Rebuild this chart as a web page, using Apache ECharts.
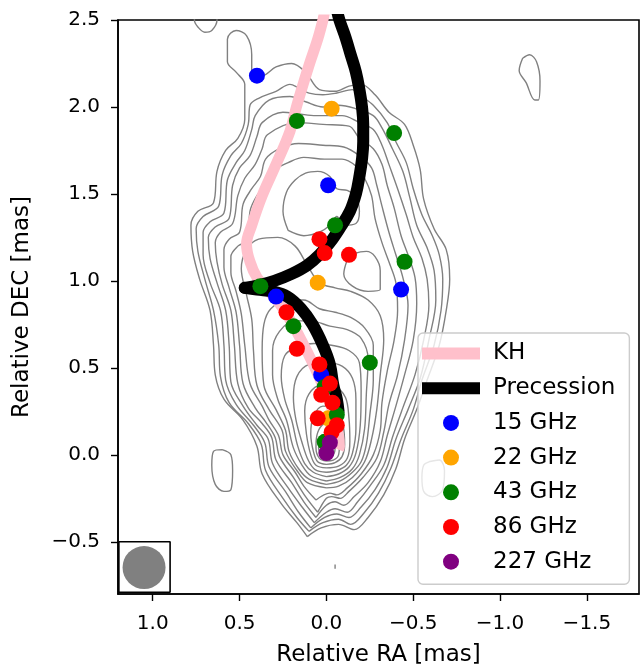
<!DOCTYPE html>
<html>
<head>
<meta charset="utf-8">
<script src="https://cdn.jsdelivr.net/npm/echarts@6/dist/echarts.min.js"></script>
<style>
html, body { margin: 0; padding: 0; background: #fff; }
#chart { width: 640px; height: 664px; }
</style>
</head>
<body>
<div id="chart"></div>
<script>
// tick values (mas)
const xTicks = [1.0, 0.5, 0.0, -0.5, -1.0, -1.5];
const yTicks = [-0.5, 0.0, 0.5, 1.0, 1.5, 2.0, 2.5];

// component positions [RA, DEC] in mas
const f15 = [[0.40, 2.18], [-0.01, 1.55], [-0.43, 0.95], [0.29, 0.91], [0.03, 0.46]];
const f22 = [[-0.03, 1.99], [0.05, 0.99], [-0.01, 0.21]];
const f43 = [[0.17, 1.92], [-0.39, 1.85], [-0.05, 1.32], [-0.45, 1.11], [0.38, 0.97],
             [0.19, 0.74], [-0.25, 0.53], [0.01, 0.39], [-0.06, 0.23], [0.01, 0.075]];
const f86 = [[0.04, 1.24], [0.01, 1.16], [-0.13, 1.15], [0.23, 0.82], [0.17, 0.61], [0.04, 0.52],
             [-0.02, 0.41], [0.03, 0.345], [-0.035, 0.30], [0.05, 0.21], [-0.06, 0.17], [-0.03, 0.13]];
const f227 = [[-0.02, 0.07], [0.00, 0.01]];

// model jet paths
const khPath = [[0.01, 2.55], [0.02, 2.50], [0.05, 2.39], [0.10, 2.24], [0.17, 2.01], [0.21, 1.86],
                [0.29, 1.67], [0.37, 1.49], [0.43, 1.32], [0.46, 1.21], [0.44, 1.11], [0.40, 1.02],
                [0.34, 0.95], [0.27, 0.87], [0.20, 0.76], [0.14, 0.65], [0.08, 0.53], [0.03, 0.42],
                [-0.02, 0.30], [-0.05, 0.20], [-0.07, 0.11], [-0.075, 0.05], [-0.07, 0.03]];
const precUpper = [[-0.06, 2.56], [-0.075, 2.50], [-0.11, 2.40], [-0.14, 2.30], [-0.17, 2.20],
                   [-0.19, 2.10], [-0.205, 2.00], [-0.212, 1.90], [-0.212, 1.80], [-0.205, 1.70],
                   [-0.19, 1.60], [-0.17, 1.50], [-0.135, 1.40], [-0.075, 1.30], [-0.02, 1.22],
                   [0.04, 1.15], [0.11, 1.09], [0.20, 1.04], [0.30, 1.00], [0.39, 0.975], [0.47, 0.96]];
const precLower = [[0.47, 0.96], [0.40, 0.95], [0.31, 0.94], [0.225, 0.91], [0.145, 0.84],
                   [0.08, 0.75], [0.02, 0.63], [-0.02, 0.52], [-0.04, 0.40], [-0.06, 0.32], [-0.07, 0.25]];

// contour lines of the image (closed), outer to inner
const cE1 = [[0.11,-0.47],[0.17,-0.39],[0.26,-0.28],[0.37,-0.11],[0.40,0.05],[0.48,0.20],[0.59,0.32],[0.64,0.46],[0.65,0.63],[0.67,0.83],[0.73,1.01],[0.77,1.17],[0.78,1.32],[0.74,1.40],[0.65,1.45],[0.63,1.63],[0.58,1.75],[0.51,1.82],[0.47,1.93],[0.47,2.13],[0.52,2.20],[0.57,2.26],[0.57,2.39],[0.52,2.44],[0.46,2.41],[0.43,2.30],[0.43,2.20],[0.37,2.18],[0.29,2.23],[0.20,2.25],[0.12,2.20],[0.04,2.10],[-0.05,2.09],[-0.13,2.12],[-0.20,2.13],[-0.28,2.07],[-0.36,1.97],[-0.45,1.90],[-0.50,1.78],[-0.54,1.64],[-0.56,1.47],[-0.62,1.30],[-0.69,1.18],[-0.71,1.01],[-0.69,0.83],[-0.65,0.63],[-0.58,0.43],[-0.52,0.26],[-0.45,0.09],[-0.40,-0.08],[-0.33,-0.23],[-0.24,-0.36],[-0.16,-0.43],[-0.07,-0.40],[0.03,-0.42]];
const cE2 = [[0.10,-0.44],[0.17,-0.36],[0.25,-0.25],[0.35,-0.09],[0.375,0.06],[0.45,0.18],[0.56,0.30],[0.61,0.45],[0.62,0.63],[0.65,0.83],[0.70,1.01],[0.74,1.17],[0.75,1.30],[0.71,1.37],[0.62,1.43],[0.60,1.61],[0.55,1.72],[0.49,1.79],[0.45,1.90],[0.44,2.01],[0.39,2.05],[0.29,2.09],[0.21,2.13],[0.16,2.11],[0.10,2.08],[0.02,2.07],[-0.06,2.08],[-0.15,2.10],[-0.19,2.07],[-0.27,2.01],[-0.35,1.91],[-0.40,1.80],[-0.46,1.68],[-0.50,1.53],[-0.55,1.38],[-0.61,1.26],[-0.65,1.15],[-0.67,1.01],[-0.66,0.83],[-0.62,0.63],[-0.55,0.43],[-0.50,0.26],[-0.43,0.09],[-0.37,-0.08],[-0.30,-0.22],[-0.22,-0.33],[-0.14,-0.40],[-0.07,-0.37],[0.02,-0.39]];
const cE3 = [[0.09,-0.42],[0.16,-0.33],[0.23,-0.22],[0.33,-0.07],[0.355,0.07],[0.42,0.17],[0.52,0.29],[0.58,0.43],[0.59,0.63],[0.61,0.83],[0.67,0.99],[0.71,1.15],[0.71,1.28],[0.67,1.34],[0.59,1.39],[0.57,1.58],[0.52,1.68],[0.47,1.75],[0.43,1.87],[0.41,1.95],[0.33,2.04],[0.21,2.06],[0.12,2.03],[0.02,2.00],[-0.07,2.01],[-0.17,1.99],[-0.27,1.95],[-0.32,1.88],[-0.38,1.76],[-0.44,1.63],[-0.48,1.48],[-0.52,1.32],[-0.58,1.19],[-0.62,1.06],[-0.63,0.89],[-0.59,0.66],[-0.54,0.44],[-0.47,0.26],[-0.40,0.09],[-0.35,-0.07],[-0.28,-0.20],[-0.20,-0.30],[-0.13,-0.36],[-0.06,-0.34],[0.01,-0.36]];
const cE4 = [[0.07,-0.39],[0.14,-0.30],[0.22,-0.19],[0.31,-0.05],[0.335,0.09],[0.40,0.17],[0.48,0.28],[0.55,0.42],[0.56,0.63],[0.58,0.83],[0.63,0.99],[0.67,1.13],[0.68,1.25],[0.64,1.31],[0.56,1.36],[0.54,1.55],[0.50,1.65],[0.44,1.72],[0.40,1.83],[0.37,1.91],[0.25,1.97],[0.16,1.96],[0.06,1.95],[-0.09,1.95],[-0.19,1.91],[-0.27,1.87],[-0.32,1.78],[-0.36,1.67],[-0.41,1.53],[-0.46,1.38],[-0.50,1.25],[-0.55,1.13],[-0.58,1.01],[-0.59,0.86],[-0.56,0.66],[-0.51,0.46],[-0.44,0.27],[-0.38,0.10],[-0.33,-0.06],[-0.25,-0.18],[-0.18,-0.27],[-0.12,-0.33],[-0.05,-0.31],[0.00,-0.33]];
const cE5 = [[0.06,-0.36],[0.13,-0.27],[0.20,-0.16],[0.29,-0.03],[0.315,0.10],[0.37,0.18],[0.45,0.27],[0.51,0.41],[0.53,0.63],[0.55,0.83],[0.60,0.98],[0.63,1.11],[0.64,1.22],[0.61,1.28],[0.54,1.33],[0.51,1.49],[0.47,1.59],[0.41,1.67],[0.37,1.76],[0.34,1.84],[0.17,1.91],[0.02,1.90],[-0.13,1.89],[-0.19,1.82],[-0.27,1.76],[-0.32,1.67],[-0.35,1.55],[-0.39,1.42],[-0.43,1.26],[-0.47,1.15],[-0.51,1.02],[-0.52,0.87],[-0.50,0.66],[-0.45,0.46],[-0.40,0.28],[-0.35,0.11],[-0.31,-0.04],[-0.24,-0.16],[-0.16,-0.24],[-0.10,-0.29],[-0.05,-0.27],[0.00,-0.29]];
const cE6 = [[0.05,-0.33],[0.12,-0.24],[0.19,-0.13],[0.27,-0.01],[0.295,0.10],[0.35,0.19],[0.41,0.27],[0.48,0.41],[0.50,0.63],[0.52,0.82],[0.56,0.96],[0.59,1.08],[0.59,1.18],[0.56,1.24],[0.50,1.28],[0.48,1.44],[0.43,1.53],[0.38,1.60],[0.35,1.70],[0.27,1.76],[0.16,1.79],[0.02,1.78],[-0.10,1.77],[-0.19,1.72],[-0.26,1.65],[-0.29,1.55],[-0.32,1.43],[-0.36,1.28],[-0.40,1.15],[-0.44,1.02],[-0.47,0.86],[-0.45,0.66],[-0.41,0.46],[-0.36,0.29],[-0.33,0.13],[-0.29,-0.02],[-0.21,-0.13],[-0.13,-0.21],[-0.08,-0.25],[-0.03,-0.24],[0.00,-0.25]];
const cE7 = [[0.06,-0.26],[0.13,-0.18],[0.18,-0.10],[0.25,0.00],[0.275,0.11],[0.33,0.20],[0.37,0.28],[0.44,0.41],[0.47,0.63],[0.49,0.81],[0.52,0.94],[0.55,1.05],[0.55,1.14],[0.51,1.20],[0.45,1.24],[0.44,1.40],[0.40,1.49],[0.35,1.55],[0.31,1.63],[0.22,1.68],[0.13,1.71],[0.01,1.70],[-0.09,1.70],[-0.17,1.66],[-0.22,1.59],[-0.26,1.49],[-0.28,1.36],[-0.32,1.22],[-0.36,1.11],[-0.40,0.99],[-0.41,0.83],[-0.39,0.66],[-0.35,0.48],[-0.32,0.30],[-0.31,0.14],[-0.27,0.00],[-0.20,-0.11],[-0.12,-0.19],[-0.06,-0.23],[-0.02,-0.22]];
const cM1 = [[0.00,-0.19],[0.11,-0.16],[0.17,-0.09],[0.235,0.02],[0.255,0.14],[0.33,0.26],[0.40,0.40],[0.42,0.60],[0.43,0.78],[0.46,0.92],[0.49,1.07],[0.46,1.18],[0.39,1.24],[0.28,1.25],[0.18,1.20],[0.11,1.09],[0.04,0.99],[-0.05,0.96],[-0.14,0.94],[-0.24,0.89],[-0.31,0.80],[-0.33,0.66],[-0.31,0.46],[-0.29,0.26],[-0.26,0.09],[-0.22,-0.04],[-0.15,-0.13],[-0.07,-0.18]];
const cM2 = [[0.00,-0.17],[0.10,-0.14],[0.16,-0.08],[0.215,0.02],[0.235,0.14],[0.29,0.26],[0.36,0.40],[0.37,0.60],[0.36,0.75],[0.32,0.84],[0.22,0.89],[0.13,0.89],[0.04,0.84],[-0.05,0.82],[-0.14,0.79],[-0.22,0.73],[-0.27,0.63],[-0.27,0.43],[-0.25,0.23],[-0.23,0.06],[-0.20,-0.04],[-0.15,-0.10],[-0.08,-0.15]];
const cC7 = [[0.00,-0.15],[0.09,-0.12],[0.14,-0.06],[0.19,0.04],[0.23,0.20],[0.28,0.32],[0.31,0.46],[0.31,0.60],[0.27,0.71],[0.18,0.77],[0.09,0.77],[-0.02,0.74],[-0.12,0.72],[-0.20,0.67],[-0.24,0.55],[-0.23,0.35],[-0.22,0.15],[-0.19,0.00],[-0.15,-0.08],[-0.08,-0.13]];
const cC6 = [[0.00,-0.125],[0.075,-0.10],[0.125,-0.05],[0.165,0.05],[0.20,0.20],[0.24,0.32],[0.26,0.45],[0.24,0.57],[0.17,0.62],[0.07,0.64],[-0.03,0.63],[-0.13,0.60],[-0.19,0.53],[-0.20,0.37],[-0.195,0.17],[-0.17,0.01],[-0.13,-0.07],[-0.07,-0.11]];
const cC5 = [[0.00,-0.10],[0.065,-0.085],[0.105,-0.03],[0.14,0.07],[0.175,0.20],[0.19,0.33],[0.17,0.45],[0.10,0.52],[0.00,0.53],[-0.09,0.51],[-0.15,0.44],[-0.17,0.32],[-0.17,0.15],[-0.15,0.01],[-0.115,-0.06],[-0.06,-0.09]];
const cC4 = [[0.00,-0.075],[0.06,-0.06],[0.09,0.00],[0.115,0.12],[0.125,0.25],[0.10,0.35],[0.03,0.40],[-0.05,0.39],[-0.11,0.33],[-0.13,0.21],[-0.135,0.08],[-0.12,-0.02],[-0.07,-0.065]];
const cC3 = [[0.00,-0.055],[0.05,-0.04],[0.075,0.02],[0.09,0.12],[0.075,0.22],[0.02,0.28],[-0.05,0.26],[-0.095,0.17],[-0.105,0.06],[-0.09,-0.01],[-0.05,-0.045]];
const cC2 = [[0.00,-0.035],[0.04,-0.02],[0.06,0.04],[0.055,0.11],[0.025,0.17],[-0.02,0.18],[-0.06,0.13],[-0.075,0.06],[-0.07,0.00],[-0.04,-0.03]];
const cC1 = [[0.00,-0.015],[0.03,-0.005],[0.045,0.04],[0.04,0.085],[0.015,0.115],[-0.015,0.115],[-0.04,0.08],[-0.05,0.035],[-0.04,0.00],[-0.02,-0.012]];
const loopA = [[0.22,1.29],[0.25,1.40],[0.23,1.51],[0.18,1.58],[0.12,1.62],[0.05,1.63],[-0.02,1.60],[-0.06,1.53],[-0.12,1.52],[-0.17,1.48],[-0.19,1.40],[-0.17,1.33],[-0.10,1.32],[-0.06,1.37],[-0.02,1.32],[0.04,1.28],[0.13,1.26]];
const loopB = [[-0.12,1.12],[-0.10,1.04],[-0.15,0.97],[-0.24,0.94],[-0.31,0.95],[-0.31,1.06],[-0.28,1.14],[-0.23,1.17],[-0.17,1.16]];
const islandRight = [[-1.13,2.28],[-1.17,2.30],[-1.21,2.26],[-1.23,2.15],[-1.22,2.04],[-1.20,2.04],[-1.15,2.14],[-1.11,2.21]];
const islandWest = [[0.60,0.03],[0.55,0.00],[0.54,-0.09],[0.55,-0.20],[0.59,-0.21],[0.64,-0.17],[0.66,-0.06],[0.65,0.02]];
const islandEast = [[-0.59,-0.04],[-0.65,-0.03],[-0.68,-0.09],[-0.67,-0.20],[-0.61,-0.24],[-0.56,-0.21],[-0.55,-0.13],[-0.56,-0.06]];
// open pieces
const islandTop = [[0.76,2.56],[0.76,2.50],[0.74,2.46],[0.70,2.43],[0.66,2.44],[0.63,2.50],[0.63,2.56]];
const islandTick = [[-0.05,-0.63],[-0.05,-0.655]];

const closedContours = [cE1, cE2, cE3, cE4, cE5, cE6, cE7, cM1, cM2, cC7, cC6, cC5, cC4, cC3, cC2, cC1,
                        loopA, loopB, islandRight, islandWest, islandEast];
const openContours = [islandTop, islandTick];

// restoring beam
const beamCenter = [[1.05, -0.648]];
const beamBox = [[1.195, -0.50], [0.90, -0.50], [0.90, -0.79], [1.195, -0.79], [1.195, -0.50]];

const freqs = [
    { name: '15 GHz', color: '#0000ff', data: f15 },
    { name: '22 GHz', color: '#ffa500', data: f22 },
    { name: '43 GHz', color: '#008000', data: f43 },
    { name: '86 GHz', color: '#ff0000', data: f86 },
    { name: '227 GHz', color: '#800080', data: f227 }
];

const FONT = 'DejaVu Sans';
const fmt = v => (v < 0 ? '\u2212' : '') + Math.abs(v).toFixed(1);

const chart = echarts.init(document.getElementById('chart'));

const contourLine = (d) => ({
    type: 'line', data: d, symbol: 'none', smooth: 0.35, silent: true, z: 1,
    lineStyle: { color: '#808080', width: 1.4 }
});

const series = [];
closedContours.forEach(c => series.push(contourLine(c.concat([c[0]]))));
openContours.forEach(c => series.push(contourLine(c)));

series.push({
    name: 'KH', type: 'line', data: khPath, symbol: 'none', smooth: 0.4, silent: true, z: 2,
    lineStyle: { color: '#ffc0cb', width: 11, cap: 'butt' }, itemStyle: { color: '#ffc0cb' }
});
[precUpper, precLower].forEach(p => series.push({
    name: 'Precession', type: 'line', data: p, symbol: 'none', smooth: 0.4, silent: true, z: 2,
    lineStyle: { color: '#000000', width: 12, cap: 'round', join: 'round' }, itemStyle: { color: '#000000' }
}));
freqs.forEach(f => series.push({
    name: f.name, type: 'scatter', data: f.data, symbol: 'circle', symbolSize: 16, silent: true, z: 3,
    itemStyle: { color: f.color, opacity: 1 }
}));
// beam
series.push({
    type: 'scatter', data: beamCenter, symbolSize: 43, silent: true, z: 3,
    itemStyle: { color: '#808080', opacity: 1 }
});
series.push({
    type: 'line', data: beamBox, symbol: 'none', silent: true, z: 3,
    lineStyle: { color: '#000000', width: 1.6 }
});

const barIcon = 'path://M0,0L58,0L58,12L0,12Z';

const option = {
    animation: false,
    grid: { left: 118, right: 1, top: 20, bottom: 70, outerBoundsMode: 'none', containLabel: false,
            show: true, borderColor: '#000', borderWidth: 1.6, backgroundColor: 'transparent' },
    xAxis: {
        type: 'value', min: -1.8, max: 1.2, inverse: true,
        name: 'Relative RA [mas]', nameLocation: 'middle', nameGap: 50,
        nameTextStyle: { fontFamily: FONT, fontSize: 23, color: '#000' },
        axisLine: { show: true, onZero: false, lineStyle: { color: '#000', width: 1.6 } },
        axisTick: { show: true, length: 7, customValues: xTicks, lineStyle: { color: '#000', width: 1.4 } },
        axisLabel: { customValues: xTicks, formatter: fmt, fontFamily: FONT, fontSize: 20, color: '#000', margin: 20 },
        splitLine: { show: false }
    },
    yAxis: {
        type: 'value', min: -0.8, max: 2.5,
        name: 'Relative DEC [mas]', nameLocation: 'middle', nameGap: 84,
        nameTextStyle: { fontFamily: FONT, fontSize: 23, color: '#000' },
        axisLine: { show: true, onZero: false, lineStyle: { color: '#000', width: 1.6 } },
        axisTick: { show: true, length: 7, customValues: yTicks, lineStyle: { color: '#000', width: 1.4 } },
        axisLabel: { customValues: yTicks, formatter: fmt, fontFamily: FONT, fontSize: 20, color: '#000', margin: 18 },
        splitLine: { show: false }
    },
    legend: {
        orient: 'vertical', left: 418, top: 333,
        itemWidth: 58, itemHeight: 16, itemGap: 11.7,
        padding: [9, 14, 11, 4],
        backgroundColor: 'rgba(255,255,255,0.8)', borderColor: '#cccccc', borderWidth: 1.4, borderRadius: 5,
        selectedMode: false,
        textStyle: { fontFamily: FONT, fontSize: 23, color: '#000', padding: [0, 0, 0, 8] },
        data: [
            { name: 'KH', icon: barIcon, itemStyle: { color: '#ffc0cb', borderWidth: 0 } },
            { name: 'Precession', icon: barIcon, itemStyle: { color: '#000000', borderWidth: 0 } }
        ].concat(freqs.map(f => ({ name: f.name, icon: 'circle', itemStyle: { color: f.color, borderWidth: 0 } })))
    },
    series: series
};

chart.setOption(option);
</script>
</body>
</html>
